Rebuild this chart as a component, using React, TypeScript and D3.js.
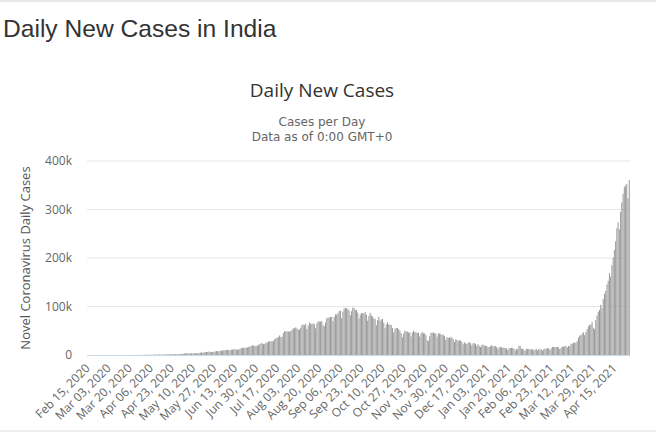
import React from 'react'
import * as d3 from 'd3'

// daily new cases in thousands, one array per month (Feb 15, 2020 .. Apr 27, 2021)
const feb2020 = [0, 0, 0, 0, 0, 0, 0, 0, 0, 0, 0, 0, 0, 0, 0]
const mar2020 = [0, 0.002, 0.001, 0.022, 0.002, 0.001, 0.003, 0.005, 0.009, 0.015, 0.008, 0.01, 0.01, 0.001, 0.023, 0.012, 0.016, 0.024, 0.035, 0.069, 0.084, 0.087, 0.097, 0.07, 0.089, 0.086, 0.15, 0.143, 0.106, 0.213, 0.314]
const apr2020 = [0.42, 0.49, 0.56, 0.58, 0.61, 0.48, 0.57, 0.57, 0.81, 0.87, 0.85, 0.76, 1.24, 1.03, 0.89, 1.06, 0.92, 1.37, 1.58, 1.24, 1.54, 1.29, 1.67, 1.41, 1.84, 1.61, 1.57, 1.9, 1.71, 1.8]
const may2020 = [2.4, 2.56, 2.95, 3.66, 2.97, 3.6, 3.34, 3.11, 3.61, 3.03, 4.21, 3.6, 3.52, 3.79, 3.94, 4.99, 5.05, 4.63, 6.15, 5.55, 6.2, 6.63, 7.11, 6.41, 5.84, 6.54, 6.39, 7.47, 8.38, 7.76, 8.39]
const jun2020 = [8.2, 8.9, 9.6, 9.9, 9.9, 10.4, 10.9, 9.9, 9.9, 11.1, 11.5, 11.4, 12.0, 11.5, 10.7, 11.5, 13.1, 14.0, 14.5, 15.4, 14.8, 14.9, 16.0, 16.9, 17.3, 18.6, 19.9, 19.5, 18.5, 18.7]
const jul2020 = [19.4, 20.9, 22.8, 24.0, 24.2, 22.3, 23.1, 25.6, 25.8, 27.8, 28.6, 28.7, 28.2, 29.4, 32.7, 35.3, 35.0, 37.4, 40.4, 37.1, 37.7, 45.7, 49.3, 49.0, 48.7, 48.9, 47.7, 49.6, 52.1, 55.1, 55.0]
const aug2020 = [57.1, 54.7, 52.1, 52.5, 56.3, 62.2, 62.5, 61.5, 64.4, 53.6, 60.9, 66.9, 64.6, 64.5, 65.0, 63.5, 55.1, 65.0, 69.7, 69.0, 68.9, 69.9, 61.4, 59.7, 67.2, 75.8, 77.3, 77.0, 78.5, 78.7, 69.9]
const sep2020 = [78.2, 83.9, 83.3, 86.4, 90.6, 91.7, 75.8, 89.7, 95.7, 97.0, 96.6, 94.4, 92.1, 81.9, 90.1, 97.9, 97.0, 93.3, 92.8, 87.4, 75.1, 83.3, 86.5, 86.1, 86.0, 88.6, 82.8, 70.6, 80.5, 86.8]
const oct2020 = [81.5, 79.5, 75.6, 74.4, 61.3, 72.0, 78.8, 70.5, 73.3, 74.4, 66.7, 55.3, 63.5, 67.7, 63.4, 62.2, 61.9, 55.7, 46.8, 54.0, 56.0, 55.8, 53.4, 50.1, 45.1, 36.5, 43.9, 49.9, 48.6, 48.3, 46.9]
const nov2020 = [46.2, 38.3, 46.2, 50.2, 47.6, 46.3, 45.7, 45.9, 38.1, 44.3, 47.9, 44.9, 44.7, 41.1, 30.5, 29.2, 38.6, 45.6, 45.9, 46.2, 45.2, 44.1, 37.9, 44.4, 44.5, 43.2, 41.3, 41.8, 38.8, 31.1]
const dec2020 = [36.6, 35.6, 35.5, 36.6, 36.0, 32.9, 26.6, 32.1, 31.5, 29.4, 29.8, 30.3, 27.1, 22.1, 26.4, 24.0, 22.9, 25.2, 26.6, 24.3, 19.6, 23.9, 24.7, 23.0, 18.7, 22.3, 18.7, 16.4, 20.5, 21.8, 20.0]
const jan2021 = [19.1, 18.2, 16.5, 16.4, 18.1, 20.3, 18.1, 18.2, 18.6, 16.3, 12.6, 15.9, 16.9, 15.6, 15.1, 15.1, 14.0, 13.8, 10.1, 13.8, 14.5, 14.5, 14.3, 13.2, 9.1, 12.7, 11.7, 18.9, 18.9, 13.1, 13.0]
const feb2021 = [11.4, 8.6, 12.9, 12.4, 12.4, 11.7, 11.8, 11.9, 9.1, 11.1, 12.9, 9.3, 12.2, 11.6, 11.6, 9.1, 11.6, 12.9, 13.2, 13.9, 14.3, 10.6, 13.7, 16.7, 16.6, 16.4, 16.5, 16.8]
const mar2021 = [15.5, 12.3, 14.9, 17.4, 16.8, 18.3, 18.7, 15.4, 18.6, 17.9, 23.3, 23.3, 24.9, 26.3, 24.5, 28.9, 35.9, 39.7, 40.9, 43.8, 46.9, 40.7, 47.3, 53.4, 59.1, 62.3, 62.6, 68.0, 56.2, 53.4, 72.2]
const apr2021 = [81.4, 89.1, 92.9, 103.7, 96.6, 115.3, 126.3, 131.9, 145.4, 152.9, 168.9, 161.7, 185.2, 200.7, 216.9, 234.7, 261.5, 273.8, 259.2, 295.0, 314.6, 332.5, 346.8, 349.3, 352.9, 323.0, 360.9]

const dailyK = [
  ...feb2020, ...mar2020, ...apr2020, ...may2020, ...jun2020, ...jul2020, ...aug2020,
  ...sep2020, ...oct2020, ...nov2020, ...dec2020, ...jan2021, ...feb2021, ...mar2021, ...apr2021,
]

const xTickLabels = [
  'Feb 15, 2020', 'Mar 03, 2020', 'Mar 20, 2020', 'Apr 06, 2020', 'Apr 23, 2020', 'May 10, 2020',
  'May 27, 2020', 'Jun 13, 2020', 'Jun 30, 2020', 'Jul 17, 2020', 'Aug 03, 2020', 'Aug 20, 2020',
  'Sep 06, 2020', 'Sep 23, 2020', 'Oct 10, 2020', 'Oct 27, 2020', 'Nov 13, 2020', 'Nov 30, 2020',
  'Dec 17, 2020', 'Jan 03, 2021', 'Jan 20, 2021', 'Feb 06, 2021', 'Feb 23, 2021', 'Mar 12, 2021',
  'Mar 29, 2021', 'Apr 15, 2021',
]
const tickEvery = 17
const yTicks = [0, 100000, 200000, 300000, 400000]
const subtitleLines = ['Cases per Day', 'Data as of 0:00 GMT+0']

const W = 656
const H = 432
const margin = { left: 87, right: 26, top: 161, bottom: 77 }
const font = '"Open Sans", "DejaVu Sans", sans-serif'

export default function App() {
  const x = d3.scaleBand<number>()
    .domain(d3.range(dailyK.length))
    .range([margin.left, W - margin.right])
    .paddingInner(0)
  const y = d3.scaleLinear().domain([0, 400000]).range([H - margin.bottom, margin.top])
  const bw = x.bandwidth()
  const fmt = (v: number) => (v === 0 ? '0' : `${v / 1000}k`)

  return (
    <svg width={W} height={H} style={{ position: 'absolute', left: 0, top: 0, background: '#fff' }}>
      <rect x={0} y={0} width={W} height={2} fill="#e8e8e8" />
      <rect x={0} y={430} width={W} height={2} fill="#eeeeee" />

      <text x={3} y={37} fontFamily='"Liberation Sans", Arial, sans-serif' fontSize={24.6} fill="#333">
        Daily New Cases in India
      </text>

      <text x={322} y={97} textAnchor="middle" fontFamily={font} fontSize={19} fill="#333">
        Daily New Cases
      </text>
      {subtitleLines.map((s, i) => (
        <text key={s} x={322} y={126 + i * 14.5} textAnchor="middle" fontFamily='"DejaVu Sans", sans-serif' fontSize={12} fill="#666">
          {s}
        </text>
      ))}

      {yTicks.slice(1).map((t) => (
        <line key={t} x1={margin.left} x2={W - margin.right} y1={y(t)} y2={y(t)} stroke="#e6e6e6" />
      ))}
      {yTicks.map((t) => (
        <text key={t} x={72} y={y(t)} dy="0.35em" textAnchor="end" fontFamily={font} fontSize={12} fill="#666">
          {fmt(t)}
        </text>
      ))}
      <text
        transform={`translate(30,${(y(0) + y(400000)) / 2}) rotate(-90)`}
        textAnchor="middle"
        fontFamily={font}
        fontSize={13}
        fill="#555"
      >
        Novel Coronavirus Daily Cases
      </text>

      <g fill="#999">
        {dailyK.map((v, i) => (
          <rect key={i} x={x(i)!} y={y(v * 1000)} width={bw * 0.8} height={y(0) - y(v * 1000)} />
        ))}
      </g>

      <line x1={margin.left} x2={W - margin.right} y1={y(0) + 0.5} y2={y(0) + 0.5} stroke="#ccd6eb" />

      {xTickLabels.map((lab, k) => {
        const cx = x(k * tickEvery)! + bw / 2 + 3
        return (
          <text
            key={lab}
            transform={`translate(${cx},${y(0) + 14}) rotate(-45)`}
            textAnchor="end"
            fontFamily={font}
            fontSize={12}
            fill="#666"
          >
            {lab}
          </text>
        )
      })}
    </svg>
  )
}
